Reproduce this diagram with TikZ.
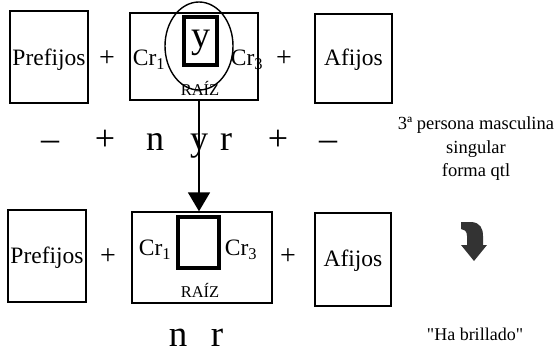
\documentclass[tikz,border=0pt]{standalone}
\usepackage{fontspec}
\setmainfont{Liberation Serif}
\newfontfamily\qfont{Liberation Serif}[Ligatures=TeXOff]
\usetikzlibrary{shapes.geometric,arrows.meta}
\begin{document}
\begin{tikzpicture}[x=1pt,y=-1pt,
  box/.style={draw, line width=1.4pt, inner sep=0pt},
  rootbox/.style={draw, line width=3.2pt, inner sep=0pt},
  boxtxt/.style={inner sep=0pt, font=\fontsize{23.5}{25}\selectfont},
  rz/.style={inner sep=0pt, font=\fontsize{16.5}{18}\selectfont},
  plus/.style={inner sep=0pt, font=\fontsize{28}{30}\selectfont},
  big/.style={inner sep=0pt, anchor=base, font=\fontsize{36}{40}\selectfont},
  side/.style={inner sep=0pt, font=\fontsize{18.5}{20}\selectfont},
  conn/.style={line width=1.8pt, -{Triangle[length=19pt,width=22pt]}}
]
\useasboundingbox (0,0) rectangle (557,353);

% ---------- top row ----------
\node[box, minimum width=78pt, minimum height=92pt] (pre1) at (49,57) {};
\node[boxtxt] (pre1t) at (49,60) {Prefijos};
\node[plus] (p1) at (107,59) {+};
\node[box, minimum width=128pt, minimum height=87pt] (r1) at (194,56.5) {};
\node[rootbox, minimum width=33pt, minimum height=48pt] (i1) at (200.5,41) {};
\node[inner sep=0pt, font=\fontsize{38}{40}\selectfont] (y0) at (200.5,43) {y};
\node[draw, ellipse, line width=1.4pt, minimum width=68pt, minimum height=88pt, inner sep=0pt] (circ) at (199,46) {};
\node[boxtxt] (cr1a) at (149,60) {Cr\textsubscript{1}};
\node[boxtxt] (cr3a) at (247,60) {Cr\textsubscript{3}};
\node[rz] (rz1) at (200,88) {RAÍZ};
\node[plus] (p2) at (284,59) {+};
\node[box, minimum width=77pt, minimum height=89pt] (af1) at (353.5,58.5) {};
\node[boxtxt] (af1t) at (353.5,60) {Afijos};

% ---------- middle row ----------
\node[big] (m1) at (50,150) {–};
\node[big] (m2) at (105,150) {+};
\node[big] (mn) at (155,150) {n};
\node[big] (my) at (199,150) {y};
\node[big] (mr) at (226,150) {r};
\node[big] (m3) at (278,150) {+};
\node[big] (m4) at (328,150) {–};

\node[side] (s1) at (476,125) {3ª persona masculina};
\node[side] (s2) at (476,149) {singular};
\node[side] (s3) at (476,172) {forma qtl};

% ---------- bottom row ----------
\node[box, minimum width=78pt, minimum height=92pt] (pre2) at (47,256) {};
\node[boxtxt] (pre2t) at (47,258) {Prefijos};
\node[plus] (p3) at (108,257) {+};
\node[box, minimum width=140pt, minimum height=91pt] (r2) at (202,257.5) {};
\node[rootbox, minimum width=41pt, minimum height=51pt] (i2) at (198.5,242.5) {};
\node[boxtxt] (cr1b) at (155,250) {Cr\textsubscript{1}};
\node[boxtxt] (cr3b) at (241,250) {Cr\textsubscript{3}};
\node[rz] (rz2) at (200,290) {RAÍZ};
\node[plus] (p4) at (288,257) {+};
\node[box, minimum width=76pt, minimum height=93pt] (af2) at (353,259.5) {};
\node[boxtxt] (af2t) at (353,261) {Afijos};

\node[big, font=\fontsize{37}{40}\selectfont] (bn) at (178,346) {n};
\node[big, font=\fontsize{37}{40}\selectfont] (br) at (217,346) {r};
\node[side, font=\fontsize{18}{20}\qfont] (hb) at (475,334) {"Ha brillado"};

% ---------- connector ----------
\draw[conn] (circ.center |- r1.south) -- (circ.center |- r2.north);

% ---------- curved arrow ----------
\coordinate (ca) at (461,222);
\fill[black!80] (ca) -- (472,222) .. controls (480,223) and (483,228) .. (483,236)
  -- (483,245) -- (487,245) -- (474,261) -- (461,245) -- (467,245) -- (467,236)
  .. controls (467,231) and (464,229) .. (461,229) -- cycle;
\end{tikzpicture}
\end{document}
